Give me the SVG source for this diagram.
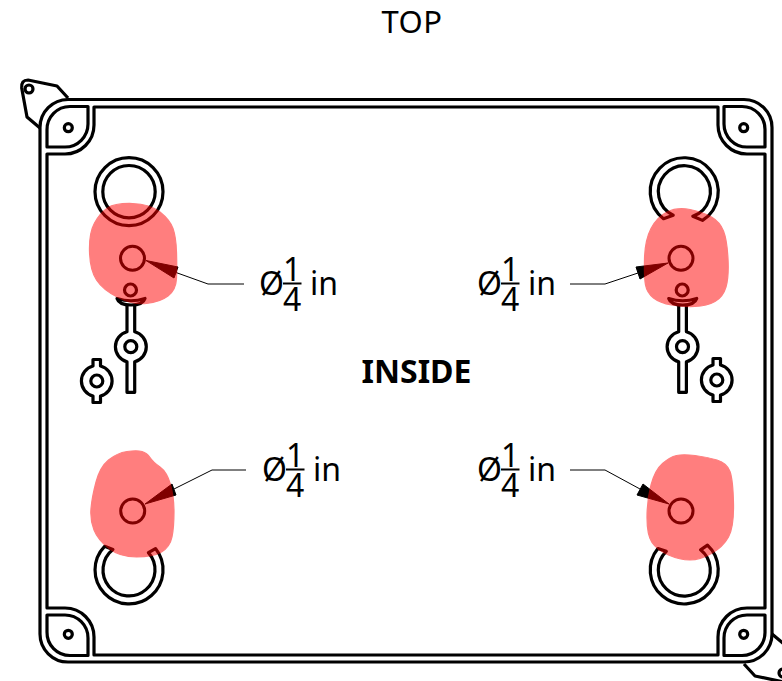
<svg xmlns="http://www.w3.org/2000/svg" width="782" height="681" viewBox="0 0 782 681">
<style>
.l{fill:none;stroke:#000;stroke-width:3.2;stroke-linejoin:round}
.h{fill:none;stroke:#000;stroke-width:3}
.b{fill:#f00;stroke:#f00;stroke-width:1.2;stroke-linejoin:round;opacity:.5}
.t{font-family:"Noto Sans",sans-serif;fill:#000}
.d{font-size:32px}
.leader{fill:none;stroke:#000;stroke-width:1}
.head{fill:#000;stroke:#000;stroke-width:1;stroke-linejoin:round}
</style>
<defs>
<g id="corner">
<path class="l" d="M88,106.5H70A23,23 0 0 0 47,130V147H65A23,23 0 0 0 88,124Z"/>
<circle class="l" cx="68.3" cy="127.7" r="4"/>
</g>
<g id="tab">
<path class="l" d="M40,128L27,117L21.7,88Q21,80 28,80L57,86L68,98"/>
<circle class="l" cx="29" cy="89" r="4"/>
</g>
<g id="screw">
<path class="l" d="M127,305V331.7A15.5,15.5 0 0 0 127,361.7V392.3H134.7V361.7A15.5,15.5 0 0 0 134.7,331.7V305"/>
<circle class="l" cx="130.8" cy="346.7" r="6"/>
<path class="l" d="M117,298.5Q131,303 145,298.5Q143,305 131,305Q119,305 117,298.5Z"/>
<circle class="l" cx="130.5" cy="290" r="6"/>
</g>
<g id="lug">
<path class="l" d="M93,366V359.5H100.5V366A15.5,15.5 0 0 1 100.5,396V402.5H93V396A15.5,15.5 0 0 1 93,366Z"/>
<circle class="l" cx="96.8" cy="381" r="6"/>
</g>
</defs>
<g id="enclosure">
<path class="l" d="M68,99.5H744A28,28 0 0 1 772,127.5V634A28,28 0 0 1 744,662H68A28,28 0 0 1 40,634V127.5A28,28 0 0 1 68,99.5Z"/>
<path class="l" d="M94,107V125A29,29 0 0 1 65,154H47V608H65A29,29 0 0 1 94,637V655H718V637A29,29 0 0 1 747,608H765V154H747A29,29 0 0 1 718,125V107Z"/>
</g>
<g id="corner-tl"><use href="#corner"/></g>
<g id="corner-tr"><use href="#corner" transform="matrix(-1 0 0 1 812 0)"/></g>
<g id="corner-bl"><use href="#corner" transform="matrix(1 0 0 -1 0 762)"/></g>
<g id="corner-br"><use href="#corner" transform="matrix(-1 0 0 -1 812 762)"/></g>
<g id="tab-tl"><use href="#tab"/></g>
<g id="tab-br"><use href="#tab" transform="matrix(-1 0 0 -1 812 762)"/></g>
<g id="ring-tl"><circle class="l" cx="129" cy="191.7" r="34"/><circle class="l" cx="129" cy="191.7" r="26.2"/></g>
<g id="ring-tr"><path class="l" d="M702.5,220.4A34,34 0 1 0 663.5,218.7L673.2,215.2A26,26 0 1 1 692.8,216.3Z"/></g>
<g id="ring-bl"><path class="l" d="M104.6,546.3A34,34 0 1 0 155.5,548.6L148.4,552.6A26,26 0 1 1 112.9,549.5Z"/></g>
<g id="ring-br"><path class="l" d="M657.9,548.5A34,34 0 1 0 707.5,545.2L700.6,549.8A26,26 0 1 1 666.3,551.3Z"/></g>
<g id="screw-l"><use href="#screw"/></g>
<g id="screw-r"><use href="#screw" transform="translate(551.7 0)"/></g>
<g id="lug-l"><use href="#lug"/></g>
<g id="lug-r"><use href="#lug" transform="translate(620 -1)"/></g>
<g id="hole-tl"><circle class="h" cx="132.5" cy="258.3" r="12"/></g>
<g id="hole-tr"><circle class="h" cx="681" cy="258.3" r="12"/></g>
<g id="hole-bl"><circle class="h" cx="132.7" cy="511" r="12"/></g>
<g id="hole-br"><circle class="h" cx="681" cy="511" r="12"/></g>
<g id="connectors">
<path class="leader" d="M176,272.5L208,284H244"/><path class="head" d="M146,260.5L178,267L174,278Z"/>
<path class="leader" d="M638,273L605,284H570"/><path class="head" d="M668,263L636,267L640,279Z"/>
<path class="leader" d="M174,489L212,470H246"/><path class="head" d="M145,504L172,484L176,495Z"/>
<path class="leader" d="M640,489L605,470H570"/><path class="head" d="M669,504L643,484L637,495Z"/>
</g>
<g id="markup">
<path class="b" d="M132.5,203.5Q150,204 160,212Q170,220 173,228.5Q176,237 176.5,252Q177,267 176.5,278.5Q176,290 168,296Q160,302 146.5,303.5Q133,305 118,297.5Q103,290 96.5,280Q90,270 89.5,251.5Q89,233 94.5,223Q100,213 107.5,208Q115,203 132.5,203.5Z"/>
<path class="b" d="M690,209.5Q703,212 711.5,217Q720,222 723.5,231Q727,240 728,258.5Q729,277 726,287Q723,297 715,301.5Q707,306 695,306.5Q683,307 671.5,305Q660,303 653.5,298Q647,293 645.5,285Q644,277 644.5,258.5Q645,240 651,228.5Q657,217 667,212Q677,207 690,209.5Z"/>
<path class="b" d="M127,451.5Q117,453 108.5,460Q100,467 96,482Q92,497 91,508.5Q90,520 94,530Q98,540 109,548.5Q120,557 136.5,557Q153,557 161.5,552Q170,547 172,537Q174,527 174,512Q174,497 170.5,484.5Q167,472 160,467Q153,462 150,457.5Q147,453 142,451.5Q137,450 127,451.5Z"/>
<path class="b" d="M695,455.5Q707,457 717,460Q727,463 730,471.5Q733,480 733.5,503.5Q734,527 728.5,537Q723,547 711.5,553.5Q700,560 690,560Q680,560 668.5,555Q657,550 652,542.5Q647,535 647,517.5Q647,500 651,485Q655,470 662.5,463.5Q670,457 676.5,455.5Q683,454 695,455.5Z"/>
</g>
<text id="title" class="t" x="412" y="33.2" font-size="31" letter-spacing=".5" text-anchor="middle">TOP</text>
<text id="inside" class="t" x="416.5" y="382.5" font-size="32" font-weight="700" text-anchor="middle">INSIDE</text>
<g id="label-tl" class="t"><text class="d" x="259" y="295">Ø</text><text class="d" x="283" y="281">1</text><rect x="283" y="282.5" width="18.5" height="2"/><text class="d" x="283" y="311">4</text><text class="d" x="310" y="295">in</text></g>
<g id="label-tr" class="t"><text class="d" x="477" y="295">Ø</text><text class="d" x="501" y="281">1</text><rect x="501" y="282.5" width="18.5" height="2"/><text class="d" x="501" y="311">4</text><text class="d" x="528" y="295">in</text></g>
<g id="label-bl" class="t"><text class="d" x="262" y="481">Ø</text><text class="d" x="286" y="467">1</text><rect x="286" y="468.5" width="18.5" height="2"/><text class="d" x="286" y="497">4</text><text class="d" x="313" y="481">in</text></g>
<g id="label-br" class="t"><text class="d" x="477" y="481">Ø</text><text class="d" x="501" y="467">1</text><rect x="501" y="468.5" width="18.5" height="2"/><text class="d" x="501" y="497">4</text><text class="d" x="528" y="481">in</text></g>
</svg>
